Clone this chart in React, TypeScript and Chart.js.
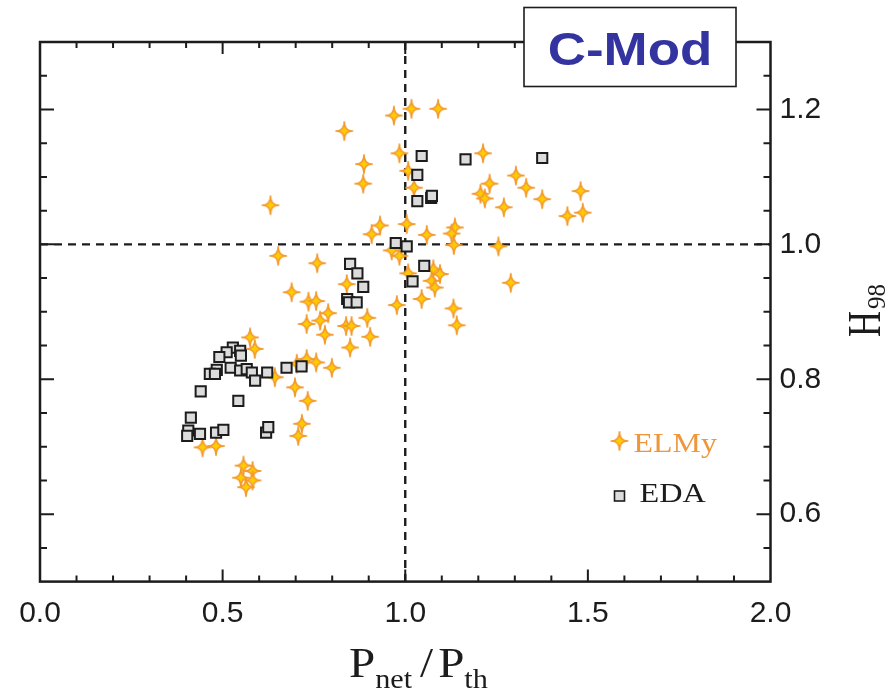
import React, { useEffect, useRef } from "react";
import { Chart, registerables } from "chart.js";

Chart.register(...registerables);

// P_net / P_th and H98 for ELMy H-mode discharges
const elmyX = [
  1.017, 1.09, 0.969, 0.833, 0.984, 1.213, 0.887, 1.008, 0.885, 1.024,
  1.231, 1.303, 1.331, 1.206, 1.218, 1.375, 1.48, 1.27, 1.444, 1.486,
  0.631, 0.931, 0.908, 1.004, 1.059, 1.136, 1.127, 1.133, 1.255, 0.652,
  0.759, 0.963, 0.984, 0.84, 1.008, 1.077, 1.095, 1.072, 1.081, 1.289,
  1.045, 0.689, 0.735, 0.756, 0.977, 1.132, 1.141, 0.789, 0.767, 0.896,
  0.73, 0.838, 0.853, 0.78, 0.904, 0.849, 0.575, 0.588, 0.73, 0.703,
  0.756, 0.799, 0.643, 0.698, 0.733, 0.717, 0.707, 0.445, 0.482, 0.557,
  0.582, 0.55, 0.582, 0.564,
];
const elmyY = [
  1.201, 1.201, 1.191, 1.168, 1.135, 1.135, 1.119, 1.109, 1.09, 1.084,
  1.09, 1.102, 1.084, 1.075, 1.068, 1.067, 1.079, 1.055, 1.042, 1.047,
  1.058, 1.028, 1.015, 1.03, 1.014, 1.025, 1.016, 0.999, 0.997, 0.983,
  0.972, 0.991, 0.983, 0.941, 0.957, 0.963, 0.956, 0.946, 0.936, 0.943,
  0.919, 0.929, 0.915, 0.916, 0.91, 0.905, 0.88, 0.898, 0.887, 0.891,
  0.882, 0.879, 0.879, 0.866, 0.863, 0.847, 0.862, 0.845, 0.83, 0.823,
  0.825, 0.817, 0.803, 0.788, 0.768, 0.734, 0.716, 0.699, 0.701, 0.672,
  0.664, 0.654, 0.65, 0.64,
];

// P_net / P_th and H98 for EDA H-mode discharges
const edaX = [
  1.045, 1.165, 1.375, 1.033, 1.033, 1.071, 1.073, 0.974, 1.004, 0.849,
  0.869, 0.885, 0.841, 0.846, 0.867, 1.052, 1.02,
  0.528, 0.548, 0.55, 0.511, 0.491, 0.522, 0.484, 0.465, 0.479, 0.548,
  0.566, 0.58, 0.589, 0.622, 0.675, 0.716, 0.44, 0.543, 0.413, 0.406,
  0.403, 0.438, 0.482, 0.502, 0.619, 0.625,
];
const edaY = [
  1.131, 1.126, 1.128, 1.103, 1.064, 1.069, 1.072, 1.002, 0.997, 0.971,
  0.957, 0.937, 0.919, 0.914, 0.914, 0.968, 0.945,
  0.847, 0.842, 0.835, 0.84, 0.833, 0.817, 0.814, 0.808, 0.808, 0.813,
  0.815, 0.81, 0.798, 0.81, 0.817, 0.819, 0.782, 0.768, 0.743, 0.724,
  0.716, 0.719, 0.721, 0.725, 0.721, 0.729,
];

const xTicks = [0, 0.5, 1.0, 1.5, 2.0];
const yTicks = [0.6, 0.8, 1.0, 1.2];
const xRange = [0, 2];
const yRange = [0.5, 1.3];
const referenceX = 1.0;
const referenceY = 1.0;
const seriesNames = ["ELMy", "EDA"];
const deviceLabel = "C-Mod";

const INK = "#1c1c1c";
const STAR_FILL = "#FFCC00";
const STAR_EDGE = "#F39A2C";
const SQUARE_FILL = "#DCDCDC";
const ELMY_TEXT = "#F0963A";
const DEVICE_BLUE = "#3434A0";

function makeStar(): HTMLCanvasElement {
  const c = document.createElement("canvas");
  c.width = 24;
  c.height = 24;
  const ctx = c.getContext("2d")!;
  const cx = 12;
  const cy = 12;
  const rx = 8.3;
  const ry = 9.2;
  const tips = [
    [cx, cy - ry],
    [cx + rx, cy],
    [cx, cy + ry],
    [cx - rx, cy],
  ];
  ctx.beginPath();
  ctx.moveTo(tips[0][0], tips[0][1]);
  for (let i = 1; i <= 4; i++) {
    const t = tips[i % 4];
    ctx.quadraticCurveTo(cx, cy, t[0], t[1]);
  }
  ctx.closePath();
  ctx.fillStyle = STAR_FILL;
  ctx.fill();
  ctx.lineWidth = 1.6;
  ctx.lineJoin = "round";
  ctx.strokeStyle = STAR_EDGE;
  ctx.stroke();
  return c;
}

function drawText(
  ctx: CanvasRenderingContext2D,
  text: string,
  x: number,
  y: number,
  font: string,
  color: string,
  sx: number,
  align: CanvasTextAlign = "left"
): number {
  ctx.save();
  ctx.font = font;
  ctx.fillStyle = color;
  ctx.textBaseline = "alphabetic";
  ctx.textAlign = align;
  const w = ctx.measureText(text).width * sx;
  ctx.translate(x, y);
  ctx.scale(sx, 1);
  ctx.fillText(text, 0, 0);
  ctx.restore();
  return w;
}

export default function App() {
  const canvasRef = useRef<HTMLCanvasElement | null>(null);

  useEffect(() => {
    const canvas = canvasRef.current;
    if (!canvas) return;
    const star = makeStar();

    const framePlugin = {
      id: "frame",
      beforeDatasetsDraw(chart: any) {
        const { ctx, chartArea: a, scales } = chart;
        const px = scales.x.getPixelForValue(referenceX);
        const py = scales.y.getPixelForValue(referenceY);
        ctx.save();
        ctx.strokeStyle = INK;
        ctx.lineWidth = 2.4;
        ctx.setLineDash([8, 6]);
        ctx.beginPath();
        ctx.moveTo(px, a.top);
        ctx.lineTo(px, a.bottom);
        ctx.moveTo(a.left, py);
        ctx.lineTo(a.right, py);
        ctx.stroke();
        ctx.restore();
      },
      afterDatasetsDraw(chart: any) {
        const { ctx, chartArea: a, scales } = chart;
        const xs = scales.x;
        const ys = scales.y;
        ctx.save();
        // plot frame
        ctx.strokeStyle = INK;
        ctx.lineWidth = 2.5;
        ctx.strokeRect(a.left, a.top, a.right - a.left, a.bottom - a.top);

        // inward tick marks on all four sides
        ctx.lineWidth = 2;
        ctx.beginPath();
        for (let i = 1; i < 20; i++) {
          const v = xRange[0] + i * 0.1;
          const p = xs.getPixelForValue(v);
          const len = i % 5 === 0 ? 12 : 6;
          ctx.moveTo(p, a.bottom);
          ctx.lineTo(p, a.bottom - len);
          ctx.moveTo(p, a.top);
          ctx.lineTo(p, a.top + len);
        }
        for (let i = 1; i < 16; i++) {
          const v = yRange[0] + i * 0.05;
          const p = ys.getPixelForValue(v);
          const major = (i - 2) % 4 === 0;
          const len = major ? 14 : 7;
          ctx.moveTo(a.right, p);
          ctx.lineTo(a.right - len, p);
          ctx.moveTo(a.left, p);
          ctx.lineTo(a.left + len, p);
        }
        ctx.stroke();

        // device label box
        ctx.fillStyle = "#ffffff";
        ctx.fillRect(524, 7.5, 212, 79);
        ctx.lineWidth = 1.6;
        ctx.strokeRect(524, 7.5, 212, 79);
        drawText(ctx, deviceLabel, 630, 65, 'bold 46px "Liberation Sans"', DEVICE_BLUE, 1.15, "center");

        // legend
        ctx.drawImage(star, 619.5 - star.width / 2, 441 - star.height / 2);
        drawText(ctx, seriesNames[0], 633.5, 451.5, '28px "Liberation Serif"', ELMY_TEXT, 1.14);
        ctx.fillStyle = SQUARE_FILL;
        ctx.fillRect(614.5, 491, 10, 10);
        ctx.strokeStyle = INK;
        ctx.lineWidth = 1.6;
        ctx.strokeRect(614.5, 491, 10, 10);
        drawText(ctx, seriesNames[1], 639.5, 501.5, '28px "Liberation Serif"', INK, 1.15);

        // x-axis title: P_net / P_th
        const big = '42px "Liberation Serif"';
        const small = '27px "Liberation Serif"';
        let x = 349;
        x += drawText(ctx, "P", x, 677, big, INK, 1.12);
        x += drawText(ctx, "net", x, 688, small, INK, 1.12);
        x += 8;
        x += drawText(ctx, "/", x, 677, big, INK, 1.12);
        x += 5;
        x += drawText(ctx, "P", x, 677, big, INK, 1.12);
        drawText(ctx, "th", x, 688, small, INK, 1.12);

        // y-axis title: H_98, reading upward on the right
        ctx.save();
        ctx.translate(880, 337);
        ctx.rotate(-Math.PI / 2);
        ctx.fillStyle = INK;
        ctx.font = '36px "Liberation Serif"';
        const hw = ctx.measureText("H").width;
        ctx.save();
        ctx.scale(1, 1.3);
        ctx.fillText("H", 0, 0);
        ctx.restore();
        ctx.font = '25px "Liberation Serif"';
        ctx.fillText("98", hw + 2, 5);
        ctx.restore();

        ctx.restore();
      },
    };

    const chart = new Chart(canvas, {
      type: "scatter",
      data: {
        datasets: [
          {
            label: seriesNames[1],
            data: edaX.map((v, i) => ({ x: v, y: edaY[i] })),
            pointStyle: "rect",
            pointRadius: 7.2,
            backgroundColor: SQUARE_FILL,
            borderColor: INK,
            borderWidth: 2,
            order: 0,
          },
          {
            label: seriesNames[0],
            data: elmyX.map((v, i) => ({ x: v, y: elmyY[i] })),
            pointStyle: star,
            pointRadius: 9,
            order: 1,
          },
        ],
      },
      options: {
        animation: false,
        responsive: false,
        events: [],
        layout: { padding: { left: 40, top: 42, right: 0, bottom: 0 } },
        plugins: { legend: { display: false }, tooltip: { enabled: false } },
        scales: {
          x: {
            type: "linear",
            position: "bottom",
            min: xRange[0],
            max: xRange[1],
            afterBuildTicks: (s: any) => {
              s.ticks = xTicks.map((v) => ({ value: v }));
            },
            afterFit: (s: any) => {
              s.height = 110.4;
            },
            grid: { display: false, drawTicks: false },
            border: { display: false },
            ticks: {
              autoSkip: false,
              maxRotation: 0,
              padding: 14,
              color: INK,
              font: { family: "Liberation Sans", size: 30 },
              callback: (v: any) => Number(v).toFixed(1),
            },
          },
          y: {
            type: "linear",
            position: "right",
            min: yRange[0],
            max: yRange[1],
            afterBuildTicks: (s: any) => {
              s.ticks = yTicks.map((v) => ({ value: v }));
            },
            afterFit: (s: any) => {
              s.width = 124.5;
            },
            grid: { display: false, drawTicks: false },
            border: { display: false },
            ticks: {
              autoSkip: false,
              padding: 9,
              color: INK,
              font: { family: "Liberation Sans", size: 30 },
              callback: (v: any) => Number(v).toFixed(1),
            },
          },
        },
      },
      plugins: [framePlugin],
    } as any);

    return () => chart.destroy();
  }, []);

  return (
    <div style={{ position: "absolute", left: 0, top: 0, width: 895, height: 692, background: "#ffffff" }}>
      <canvas ref={canvasRef} width={895} height={692} style={{ display: "block", width: 895, height: 692 }} />
    </div>
  );
}
